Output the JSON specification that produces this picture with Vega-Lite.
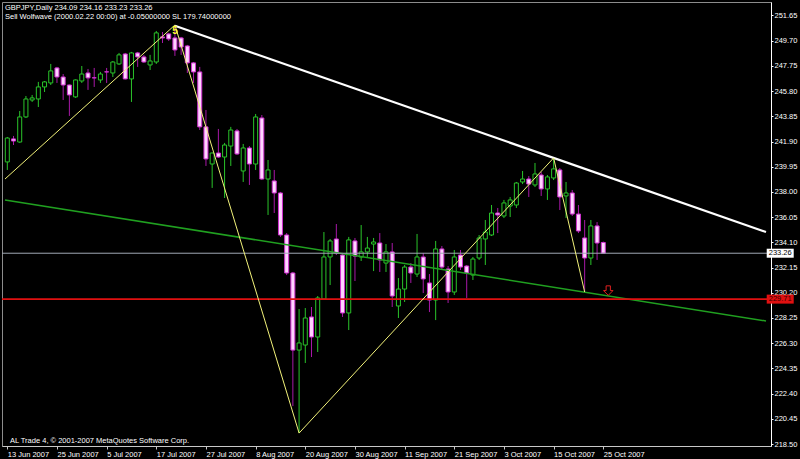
{
"$schema": "https://vega.github.io/schema/vega-lite/v6.json",
"width": 769, "height": 444,
"autosize": {"type": "none"},
"padding": {"left": 2, "top": 2, "right": 29, "bottom": 13},
"background": "#000000",
"config": {"view": {"stroke": "#8c8c8c", "fill": "#000000"}, "font": "Liberation Sans"},
"title": {"text": "GBPJPY,Daily  234.09 234.16 233.23 233.26", "subtitle": "Sell Wolfwave (2000.02.22 00:00) at -0.05000000 SL 179.74000000", "anchor": "start", "frame": "group", "offset": -18, "dx": 3, "color": "#ffffff", "subtitleColor": "#ffffff", "font": "Liberation Sans", "subtitleFont": "Liberation Sans", "fontSize": 7.5, "subtitleFontSize": 7.5, "fontWeight": "normal", "subtitlePadding": 1},
"datasets": {
"bars": [
{"i":0,"o":240.32,"h":242.25,"l":239.70,"c":242.17},
{"i":1,"o":242.10,"h":242.33,"l":241.63,"c":241.94},
{"i":2,"o":241.86,"h":244.26,"l":241.80,"c":243.80},
{"i":3,"o":243.80,"h":245.42,"l":243.72,"c":245.19},
{"i":4,"o":245.11,"h":245.50,"l":244.96,"c":245.27},
{"i":5,"o":245.19,"h":246.51,"l":244.57,"c":246.12},
{"i":6,"o":246.12,"h":246.58,"l":245.73,"c":246.51},
{"i":7,"o":246.43,"h":247.90,"l":246.27,"c":247.36},
{"i":8,"o":247.59,"h":247.67,"l":246.43,"c":246.89},
{"i":9,"o":246.89,"h":247.12,"l":245.11,"c":246.27},
{"i":10,"o":246.27,"h":246.30,"l":243.88,"c":245.50},
{"i":11,"o":245.35,"h":246.70,"l":245.27,"c":246.66},
{"i":12,"o":246.58,"h":247.74,"l":246.43,"c":247.12},
{"i":13,"o":247.20,"h":247.51,"l":245.89,"c":246.82},
{"i":14,"o":246.83,"h":247.59,"l":246.12,"c":246.82},
{"i":15,"o":246.66,"h":247.28,"l":246.43,"c":247.12},
{"i":16,"o":247.29,"h":247.59,"l":246.43,"c":247.28},
{"i":17,"o":247.20,"h":248.13,"l":246.89,"c":248.05},
{"i":18,"o":247.90,"h":248.75,"l":247.82,"c":248.60},
{"i":19,"o":248.67,"h":248.75,"l":246.70,"c":246.74},
{"i":20,"o":246.74,"h":248.83,"l":244.96,"c":248.75},
{"i":21,"o":248.75,"h":248.83,"l":247.67,"c":248.44},
{"i":22,"o":248.44,"h":248.60,"l":247.98,"c":248.05},
{"i":23,"o":247.82,"h":248.60,"l":247.43,"c":248.13},
{"i":24,"o":248.05,"h":250.45,"l":247.90,"c":250.30},
{"i":25,"o":249.99,"h":250.37,"l":249.52,"c":249.91},
{"i":26,"o":250.22,"h":250.30,"l":249.68,"c":249.83},
{"i":27,"o":249.91,"h":250.91,"l":248.52,"c":248.98},
{"i":28,"o":249.91,"h":249.99,"l":248.60,"c":249.21},
{"i":29,"o":249.29,"h":249.37,"l":247.20,"c":247.98},
{"i":30,"o":247.98,"h":248.05,"l":246.43,"c":247.28},
{"i":31,"o":247.28,"h":247.67,"l":242.79,"c":243.03},
{"i":32,"o":243.03,"h":244.34,"l":240.01,"c":240.55},
{"i":33,"o":240.16,"h":241.05,"l":238.31,"c":241.01},
{"i":34,"o":241.01,"h":242.87,"l":240.63,"c":240.70},
{"i":35,"o":240.70,"h":241.79,"l":237.53,"c":241.63},
{"i":36,"o":241.55,"h":243.03,"l":240.01,"c":242.79},
{"i":37,"o":242.72,"h":242.87,"l":240.86,"c":240.94},
{"i":38,"o":239.62,"h":241.71,"l":238.77,"c":241.40},
{"i":39,"o":241.40,"h":241.55,"l":238.54,"c":240.16},
{"i":40,"o":240.16,"h":244.03,"l":239.70,"c":243.80},
{"i":41,"o":243.72,"h":243.95,"l":238.92,"c":239.00},
{"i":42,"o":239.00,"h":240.47,"l":236.22,"c":239.70},
{"i":43,"o":238.85,"h":239.70,"l":236.37,"c":237.92},
{"i":44,"o":237.92,"h":238.00,"l":234.52,"c":234.67},
{"i":45,"o":234.67,"h":234.82,"l":231.57,"c":231.73},
{"i":46,"o":231.73,"h":231.81,"l":221.44,"c":225.77},
{"i":47,"o":225.77,"h":228.94,"l":219.35,"c":226.32},
{"i":48,"o":226.16,"h":229.02,"l":224.77,"c":228.25},
{"i":49,"o":228.33,"h":229.10,"l":225.23,"c":226.78},
{"i":50,"o":226.78,"h":229.95,"l":225.62,"c":229.80},
{"i":51,"o":229.72,"h":234.90,"l":229.64,"c":232.97},
{"i":52,"o":232.97,"h":234.36,"l":230.80,"c":234.21},
{"i":53,"o":234.36,"h":235.52,"l":233.12,"c":233.28},
{"i":54,"o":233.12,"h":233.28,"l":228.33,"c":228.64},
{"i":55,"o":228.64,"h":234.52,"l":227.32,"c":234.29},
{"i":56,"o":234.21,"h":234.44,"l":231.11,"c":233.04},
{"i":57,"o":232.97,"h":235.44,"l":232.66,"c":233.36},
{"i":58,"o":233.36,"h":234.52,"l":232.97,"c":233.66},
{"i":59,"o":233.97,"h":234.44,"l":231.88,"c":234.13},
{"i":60,"o":234.05,"h":234.82,"l":231.81,"c":232.74},
{"i":61,"o":232.50,"h":233.97,"l":231.81,"c":233.36},
{"i":62,"o":233.36,"h":234.05,"l":229.10,"c":229.95},
{"i":63,"o":229.18,"h":231.34,"l":228.25,"c":230.49},
{"i":64,"o":230.49,"h":232.35,"l":229.49,"c":232.19},
{"i":65,"o":232.19,"h":232.50,"l":230.96,"c":231.73},
{"i":66,"o":231.65,"h":234.75,"l":231.42,"c":232.97},
{"i":67,"o":232.97,"h":233.28,"l":230.18,"c":231.27},
{"i":68,"o":230.96,"h":231.65,"l":228.71,"c":229.64},
{"i":69,"o":229.64,"h":234.21,"l":228.09,"c":233.59},
{"i":70,"o":233.59,"h":233.82,"l":231.96,"c":232.19},
{"i":71,"o":232.04,"h":232.27,"l":229.41,"c":230.26},
{"i":72,"o":230.26,"h":233.51,"l":230.03,"c":232.97},
{"i":73,"o":233.12,"h":233.51,"l":231.96,"c":232.19},
{"i":74,"o":232.27,"h":232.35,"l":229.80,"c":231.73},
{"i":75,"o":231.57,"h":232.97,"l":231.19,"c":232.81},
{"i":76,"o":232.89,"h":234.67,"l":232.74,"c":234.44},
{"i":77,"o":234.36,"h":235.83,"l":232.35,"c":234.90},
{"i":78,"o":234.67,"h":236.99,"l":234.59,"c":236.37},
{"i":79,"o":236.37,"h":236.76,"l":234.82,"c":236.22},
{"i":80,"o":236.14,"h":237.38,"l":235.98,"c":237.15},
{"i":81,"o":236.91,"h":237.61,"l":236.06,"c":237.38},
{"i":82,"o":236.99,"h":238.77,"l":236.76,"c":238.69},
{"i":83,"o":238.77,"h":239.62,"l":238.61,"c":239.00},
{"i":84,"o":239.00,"h":239.23,"l":237.61,"c":238.61},
{"i":85,"o":238.54,"h":240.24,"l":238.38,"c":239.39},
{"i":86,"o":239.31,"h":239.54,"l":237.69,"c":238.23},
{"i":87,"o":238.23,"h":239.31,"l":237.38,"c":239.16},
{"i":88,"o":239.08,"h":240.63,"l":238.92,"c":239.78},
{"i":89,"o":239.70,"h":239.85,"l":236.60,"c":237.61},
{"i":90,"o":237.69,"h":238.77,"l":235.98,"c":237.92},
{"i":91,"o":237.92,"h":238.15,"l":236.14,"c":236.29},
{"i":92,"o":236.29,"h":236.99,"l":234.82,"c":234.98},
{"i":93,"o":234.44,"h":235.83,"l":230.26,"c":232.89},
{"i":94,"o":232.89,"h":235.83,"l":232.35,"c":235.37},
{"i":95,"o":235.37,"h":235.67,"l":232.74,"c":234.05},
{"i":96,"o":234.09,"h":234.16,"l":233.23,"c":233.26}
],
"zig": [{"i":-0.37,"p":239.0},{"i":27,"p":250.91},{"i":47,"p":219.35},{"i":88,"p":240.63},{"i":93,"p":230.26}],
"white": [{"i":27,"p":250.85},{"i":122.21,"p":234.90}],
"green": [{"i":-0.37,"p":237.38},{"i":122.21,"p":228.02}],
"levels": [{"kind":"bid","p":233.26},{"kind":"target","p":229.71}],
"wave": [{"i":27,"p":250.45,"t":"5"}],
"arrow": [{"i":96.8,"p":230.37}],
"note": [{"i":0.43,"p":218.62,"t":"AL Trade 4, © 2001-2007 MetaQuotes Software Corp."}]
},
"layer": [
{"data": {"name": "bars"}, "mark": {"type": "rule", "strokeWidth": 1},
 "encoding": {
  "x": {"field": "i", "type": "quantitative", "title": null, "scale": {"domain": [-0.048, 122.21], "nice": false, "zero": false},
   "axis": {"values": [0,8,16,24,32,40,48,56,64,72,80,88,96], "tickCount": 40, "labelExpr": "['13 Jun 2007','25 Jun 2007','5 Jul 2007','17 Jul 2007','27 Jul 2007','8 Aug 2007','20 Aug 2007','30 Aug 2007','11 Sep 2007','21 Sep 2007','3 Oct 2007','15 Oct 2007','25 Oct 2007'][datum.value/8]", "labelAlign": "left", "labelBaseline": "top", "labelPadding": 1, "labelDx": 1, "labelColor": "#ffffff", "labelFont": "Liberation Sans", "labelFontSize": 7.5, "tickSize": 3, "tickColor": "#c8c8c8", "domainColor": "#c8c8c8", "grid": false, "labelFlush": false, "labelOverlap": false}},
  "y": {"field": "l", "type": "quantitative", "title": null, "scale": {"domain": [218.35, 252.69], "nice": false, "zero": false},
   "axis": {"orient": "right", "values": [218.5,220.45,222.4,224.35,226.3,228.25,230.2,232.15,234.1,236.05,238.0,239.95,241.9,243.85,245.8,247.75,249.7,251.65], "tickCount": 40, "format": ".2f", "labelAlign": "left", "labelBaseline": "middle", "labelPadding": 1, "labelColor": "#ffffff", "labelFont": "Liberation Sans", "labelFontSize": 7.5, "tickSize": 2, "tickColor": "#ffffff", "domainColor": "#ffffff", "grid": false, "labelFlush": false, "labelOverlap": false}},
  "y2": {"field": "h"},
  "color": {"condition": {"test": "datum.c > datum.o", "value": "#2ac42a"}, "value": "#a818a8"}
 }},
{"data": {"name": "bars"}, "mark": {"type": "bar", "orient": "vertical", "width": 4, "strokeWidth": 1},
 "encoding": {
  "x": {"field": "i", "type": "quantitative", "title": null, "scale": {"domain": [-0.048, 122.21], "nice": false, "zero": false}},
  "y": {"field": "o", "type": "quantitative", "title": null, "scale": {"domain": [218.35, 252.69], "nice": false, "zero": false}},
  "y2": {"field": "c"},
  "fill": {"condition": {"test": "datum.c > datum.o", "value": "#000000"}, "value": "#ffd4ff"},
  "stroke": {"condition": {"test": "datum.c > datum.o", "value": "#2ac42a"}, "value": "#d030d0"}
 }},
{"data": {"name": "green"}, "mark": {"type": "line", "clip": true, "color": "#20a020", "strokeWidth": 1.5},
 "encoding": {
  "x": {"field": "i", "type": "quantitative", "title": null, "scale": {"domain": [-0.048, 122.21], "nice": false, "zero": false}},
  "y": {"field": "p", "type": "quantitative", "title": null, "scale": {"domain": [218.35, 252.69], "nice": false, "zero": false}}
 }},
{"data": {"name": "levels"}, "mark": {"type": "rule"},
 "encoding": {
  "y": {"field": "p", "type": "quantitative", "title": null, "scale": {"domain": [218.35, 252.69], "nice": false, "zero": false}},
  "color": {"condition": {"test": "datum.kind == 'bid'", "value": "#a0a8b4"}, "value": "#e01010"},
  "strokeWidth": {"condition": {"test": "datum.kind == 'bid'", "value": 1}, "value": 1.6}
 }},
{"data": {"name": "white"}, "mark": {"type": "line", "clip": true, "color": "#ffffff", "strokeWidth": 2.2},
 "encoding": {
  "x": {"field": "i", "type": "quantitative", "title": null, "scale": {"domain": [-0.048, 122.21], "nice": false, "zero": false}},
  "y": {"field": "p", "type": "quantitative", "title": null, "scale": {"domain": [218.35, 252.69], "nice": false, "zero": false}}
 }},
{"data": {"name": "zig"}, "mark": {"type": "line", "clip": true, "color": "#f2f27a", "strokeWidth": 1},
 "encoding": {
  "x": {"field": "i", "type": "quantitative", "title": null, "scale": {"domain": [-0.048, 122.21], "nice": false, "zero": false}},
  "y": {"field": "p", "type": "quantitative", "title": null, "scale": {"domain": [218.35, 252.69], "nice": false, "zero": false}}
 }},
{"data": {"name": "wave"}, "mark": {"type": "text", "color": "#ffff30", "fontSize": 10, "fontWeight": "bold", "font": "Liberation Sans", "align": "center", "baseline": "middle"},
 "encoding": {
  "x": {"field": "i", "type": "quantitative", "title": null, "scale": {"domain": [-0.048, 122.21], "nice": false, "zero": false}},
  "y": {"field": "p", "type": "quantitative", "title": null, "scale": {"domain": [218.35, 252.69], "nice": false, "zero": false}},
  "text": {"field": "t"}
 }},
{"data": {"name": "arrow"}, "mark": {"type": "point", "shape": "M-0.45,-1L0.45,-1L0.45,0L1,0L0,1L-1,0L-0.45,0Z", "size": 90, "filled": false, "stroke": "#e02020", "strokeWidth": 1, "opacity": 1},
 "encoding": {
  "x": {"field": "i", "type": "quantitative", "title": null, "scale": {"domain": [-0.048, 122.21], "nice": false, "zero": false}},
  "y": {"field": "p", "type": "quantitative", "title": null, "scale": {"domain": [218.35, 252.69], "nice": false, "zero": false}}
 }},
{"data": {"name": "note"}, "mark": {"type": "text", "color": "#ffffff", "fontSize": 7.5, "font": "Liberation Sans", "align": "left", "baseline": "alphabetic"},
 "encoding": {
  "x": {"field": "i", "type": "quantitative", "title": null, "scale": {"domain": [-0.048, 122.21], "nice": false, "zero": false}},
  "y": {"field": "p", "type": "quantitative", "title": null, "scale": {"domain": [218.35, 252.69], "nice": false, "zero": false}},
  "text": {"field": "t"}
 }},
{"data": {"name": "levels"}, "mark": {"type": "tick", "orient": "horizontal", "size": 27, "thickness": 9, "opacity": 1},
 "encoding": {
  "x": {"datum": 124.5, "type": "quantitative", "scale": {"domain": [-0.048, 122.21], "nice": false, "zero": false}},
  "y": {"field": "p", "type": "quantitative", "title": null, "scale": {"domain": [218.35, 252.69], "nice": false, "zero": false}},
  "color": {"condition": {"test": "datum.kind == 'bid'", "value": "#ffffff"}, "value": "#e01010"}
 }},
{"data": {"name": "levels"}, "mark": {"type": "text", "fontSize": 7.5, "font": "Liberation Sans", "align": "center", "baseline": "middle"},
 "encoding": {
  "x": {"datum": 124.5, "type": "quantitative", "scale": {"domain": [-0.048, 122.21], "nice": false, "zero": false}},
  "y": {"field": "p", "type": "quantitative", "title": null, "scale": {"domain": [218.35, 252.69], "nice": false, "zero": false}},
  "text": {"field": "p", "format": ".2f"},
  "color": {"condition": {"test": "datum.kind == 'bid'", "value": "#000000"}, "value": "#3a0000"}
 }}
]
}
